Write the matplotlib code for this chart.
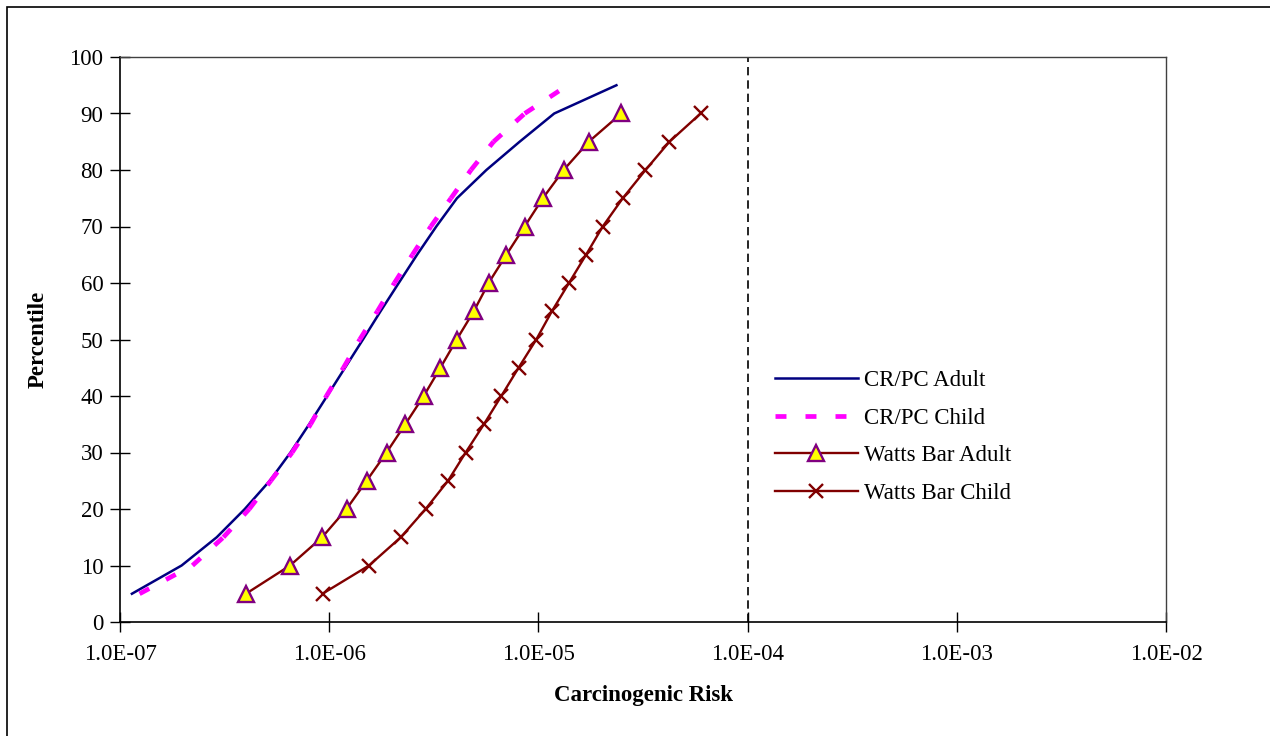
import numpy as np
import matplotlib
matplotlib.use('Agg')
import matplotlib.pyplot as plt
from matplotlib.collections import LineCollection
from matplotlib.lines import Line2D
from matplotlib.patches import Rectangle

plt.rcParams['font.family'] = ['Liberation Serif', 'DejaVu Serif']

# percentiles for each curve
pct_crpc_adult = [5, 10, 15, 20, 25, 30, 35, 40, 45, 50, 55, 60, 65, 70, 75, 80, 85, 90, 95]
pct_crpc_child = [5, 10, 15, 20, 25, 30, 35, 40, 45, 50, 55, 60, 65, 70, 75, 80, 85, 90, 95]
pct_watts = [5, 10, 15, 20, 25, 30, 35, 40, 45, 50, 55, 60, 65, 70, 75, 80, 85, 90]

# carcinogenic risk values
risk_crpc_adult = [1.14e-7, 1.97e-7, 2.90e-7, 3.95e-7, 5.20e-7, 6.53e-7, 8.02e-7, 9.77e-7,
                   1.19e-6, 1.45e-6, 1.76e-6, 2.15e-6, 2.63e-6, 3.25e-6, 4.08e-6, 5.64e-6,
                   8.13e-6, 1.19e-5, 2.36e-5]
risk_crpc_child = [1.24e-7, 2.22e-7, 3.12e-7, 4.15e-7, 5.26e-7, 6.65e-7, 8.15e-7, 9.7e-7,
                   1.17e-6, 1.40e-6, 1.70e-6, 2.05e-6, 2.50e-6, 3.06e-6, 3.82e-6, 4.76e-6,
                   6.10e-6, 8.6e-6, 1.38e-5]
risk_watts_adult = [4.0e-7, 6.5e-7, 9.25e-7, 1.21e-6, 1.51e-6, 1.88e-6, 2.31e-6, 2.83e-6,
                    3.40e-6, 4.07e-6, 4.91e-6, 5.78e-6, 7.03e-6, 8.59e-6, 1.05e-5, 1.32e-5,
                    1.74e-5, 2.49e-5]
risk_watts_child = [9.29e-7, 1.55e-6, 2.20e-6, 2.89e-6, 3.70e-6, 4.49e-6, 5.49e-6, 6.65e-6,
                    8.04e-6, 9.77e-6, 1.16e-5, 1.40e-5, 1.69e-5, 2.03e-5, 2.53e-5, 3.25e-5,
                    4.23e-5, 5.96e-5]

x_ticks = [1e-7, 1e-6, 1e-5, 1e-4, 1e-3, 1e-2]
x_tick_labels = ['1.0E-07', '1.0E-06', '1.0E-05', '1.0E-04', '1.0E-03', '1.0E-02']
threshold = 1e-4

FS = 16.5
fig = plt.figure(figsize=(12.7, 7.36), dpi=100)
ax = fig.add_axes([120 / 1270, 1 - 622 / 736, 1046 / 1270, 565 / 736])

ax.plot(risk_crpc_adult, pct_crpc_adult, color='#000080', lw=1.8, zorder=3)

# dashed curve: dash pattern restarts at every vertex, like the original
pts = np.column_stack([risk_crpc_child, pct_crpc_child])
segs = np.stack([pts[:-1], pts[1:]], axis=1)
lw_dash = 3.4
dash = (0, (7.9 / lw_dash, 13.7 / lw_dash))
lc = LineCollection(segs, colors='#FF00FF', linewidths=lw_dash, linestyles=[dash],
                    capstyle='butt', zorder=3)
ax.add_collection(lc)

ax.plot(risk_watts_adult, pct_watts, color='#800000', lw=1.7, marker='^', ms=11,
        mfc='#FFFF00', mec='#800080', mew=1.7, zorder=4)
ax.plot(risk_watts_child, pct_watts, color='#800000', lw=1.7, marker='x', ms=10,
        mec='#800000', mew=1.7, zorder=4)

ax.axvline(threshold, color='black', lw=1.2, ls=(0, (5, 3)), zorder=2)

ax.set_xscale('log')
ax.set_xlim(1e-7, 1e-2)
ax.set_ylim(0, 100)
ax.set_xticks(x_ticks)
ax.set_xticklabels(x_tick_labels)
ax.minorticks_off()
ax.set_yticks(range(0, 101, 10))
ax.tick_params(direction='inout', length=14, width=1, labelsize=FS, pad=5)
ax.tick_params(axis='x', pad=9)

for side in ['left', 'bottom']:
    ax.spines[side].set_color('black')
    ax.spines[side].set_linewidth(1.2)
for side in ['top', 'right']:
    ax.spines[side].set_color('#404040')
    ax.spines[side].set_linewidth(1.0)

ax.set_xlabel('Carcinogenic Risk', fontsize=FS, fontweight='bold', labelpad=14)
ax.set_ylabel('Percentile', fontsize=FS, fontweight='bold', labelpad=15)

handles = [
    Line2D([], [], color='#000080', lw=1.8),
    Line2D([], [], color='#FF00FF', lw=lw_dash, ls=dash, dash_capstyle='butt'),
    Line2D([], [], color='#800000', lw=1.7, marker='^', ms=11, mfc='#FFFF00',
           mec='#800080', mew=1.7),
    Line2D([], [], color='#800000', lw=1.7, marker='x', ms=10, mec='#800000', mew=1.7),
]
labels = ['CR/PC Adult', 'CR/PC Child', 'Watts Bar Adult', 'Watts Bar Child']
fig.legend(handles, labels, loc='center left', bbox_to_anchor=(775 / 1270, 1 - 437 / 736),
           frameon=False, fontsize=FS, handlelength=3.6, handletextpad=0.3,
           labelspacing=0.72, borderpad=0, borderaxespad=0, numpoints=1)

# chart area border (only top and left edges fall inside the image)
fig.patches.append(Rectangle((7 / 1270, -0.1), 1.2, 1 - 7 / 736 + 0.1,
                             transform=fig.transFigure, fill=False, ec='black', lw=1.2))

fig.savefig('out.png', dpi=100)
